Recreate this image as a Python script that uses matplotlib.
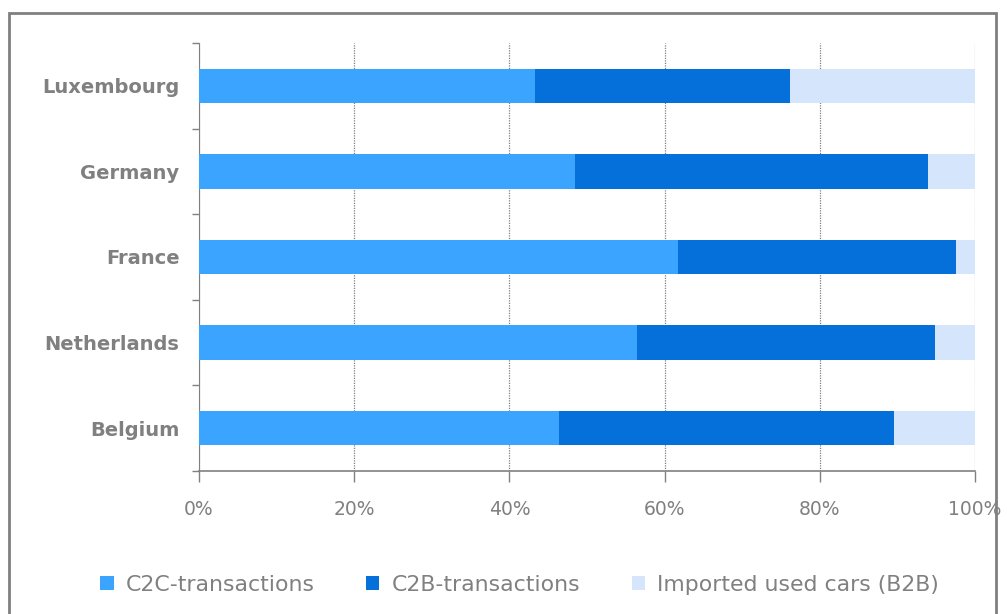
import matplotlib
matplotlib.use("Agg")
import matplotlib.pyplot as plt
from matplotlib.patches import Rectangle
import numpy as np

plt.rcParams["font.family"] = ["DejaVu Sans"]

countries = ["Luxembourg", "Germany", "France", "Netherlands", "Belgium"]
c2c = [43.3, 48.4, 61.7, 56.4, 46.4]
c2b = [32.9, 45.5, 35.8, 38.4, 43.2]
b2b = [23.8, 6.1, 2.5, 5.2, 10.4]
series_names = ["C2C-transactions", "C2B-transactions", "Imported used cars (B2B)"]
colors = ["#3AA4FF", "#0570DA", "#D5E6FC"]
xticks = [0, 20, 40, 60, 80, 100]
xticklabels = ["0%", "20%", "40%", "60%", "80%", "100%"]

gray = "#808080"
fig = plt.figure(figsize=(10.07, 6.14), dpi=100)
ax = fig.add_axes([199/1007, 1-471/614, (975-199)/1007, (471-43)/614])

y = np.arange(len(countries))
left = np.zeros(len(countries))
handles = []
for vals, col, name in zip([c2c, c2b, b2b], colors, series_names):
    h = ax.barh(y, vals, left=left, height=0.4, color=col, label=name, zorder=3)
    handles.append(h)
    left += np.array(vals)

ax.set_ylim(len(countries)-0.5, -0.5)
ax.set_xlim(0, 100)
ax.set_yticks(y)
ax.set_yticklabels(countries, fontsize=14, fontweight="bold", color=gray)
ax.tick_params(axis="y", which="major", length=0, pad=14)
ax.set_yticks(np.arange(-0.5, len(countries), 1), minor=True)
ax.tick_params(axis="y", which="minor", length=5, color=gray, width=1)

ax.set_xticks(xticks)
ax.set_xticklabels(xticklabels, fontsize=13.5, color=gray)
ax.tick_params(axis="x", length=8, color=gray, width=1, pad=13)
ax.grid(axis="x", color=gray, linestyle=(0, (1, 1)), linewidth=0.9, zorder=0)

for s in ["top", "right"]:
    ax.spines[s].set_visible(False)
ax.spines["left"].set_color(gray)
ax.spines["left"].set_linestyle((0, (1, 1)))
ax.spines["bottom"].set_color(gray)
ax.spines["bottom"].set_linewidth(1.2)

fig.legend(handles=handles, labels=series_names, loc="center", bbox_to_anchor=(0.516, 1-585/614),
           ncol=3, frameon=False, fontsize=15.8, labelcolor=gray, handlelength=0.6, handleheight=0.62,
           columnspacing=2.35, handletextpad=0.55)

fig.patches.append(Rectangle((9/1007, -0.1), (996-9)/1007, 1.1-13/614, transform=fig.transFigure,
                             fill=False, edgecolor=gray, linewidth=2))

fig.savefig("out.png", dpi=100)
